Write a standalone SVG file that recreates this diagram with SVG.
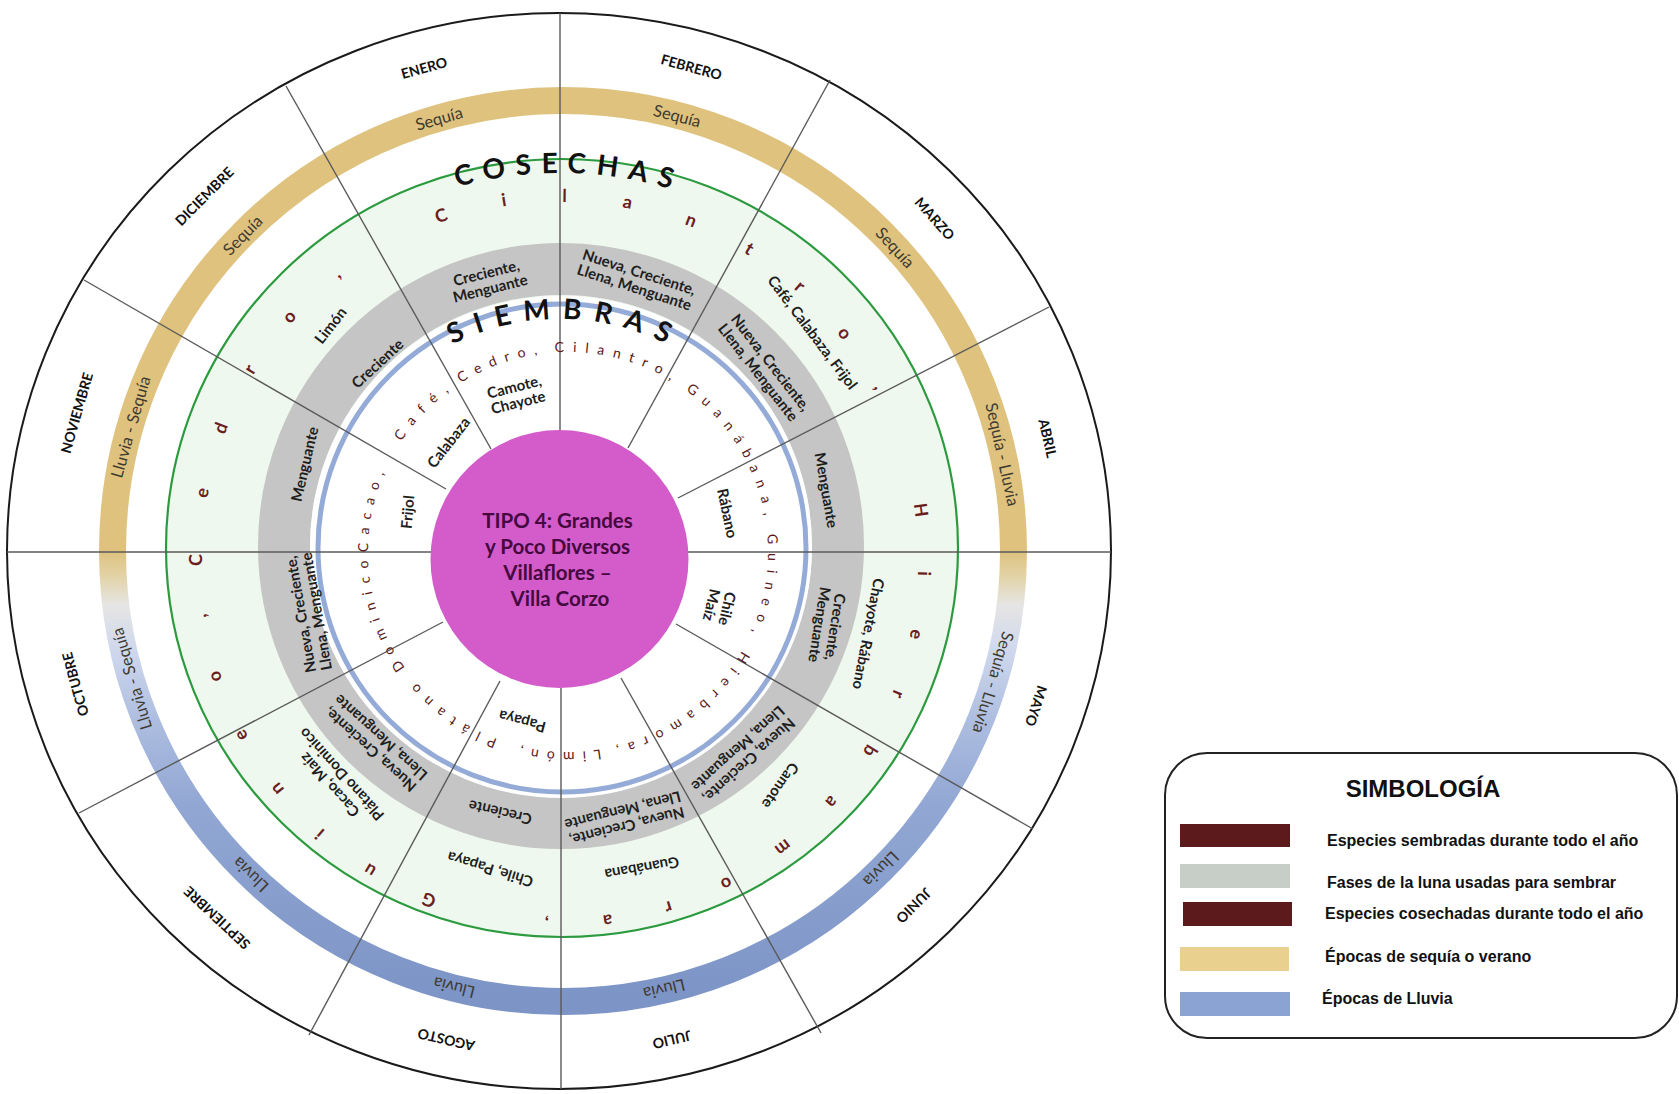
<svg xmlns="http://www.w3.org/2000/svg" width="1679" height="1094" viewBox="0 0 1679 1094">
<style>
text{font-family:Lato,"Liberation Sans",sans-serif}
.mon{font-weight:bold;font-size:14px;fill:#111}
.sea{font-size:16.5px;fill:#3f3a30}
.ph{font-weight:bold;font-size:15px;fill:#1e1e1e}
.sp{font-weight:bold;font-size:15px;fill:#1e1e1e}
.r1{font-weight:bold;font-size:18px;fill:#6b1e1e}
.r2{font-size:14px;fill:#5a1a1a}
.big{font-weight:bold;font-size:28px;fill:#111}
.ctr{font-weight:bold;font-size:20.5px;fill:#45093f}
.leg{font-family:"Liberation Sans",Arial,sans-serif;font-weight:bold;font-size:16px;fill:#111}
.ttl{font-family:"Liberation Sans",Arial,sans-serif;font-weight:bold;font-size:24px;fill:#111}
.ln{stroke:#5a5a5a;stroke-width:1.4}
</style>
<defs>
<linearGradient id="season" gradientUnits="userSpaceOnUse" x1="0" y1="101" x2="0" y2="1001">
<stop offset="0" stop-color="#dec27e"/>
<stop offset="0.5" stop-color="#dec27e"/>
<stop offset="0.53" stop-color="#e3d4aa"/>
<stop offset="0.56" stop-color="#e6e5e4"/>
<stop offset="0.61" stop-color="#cfd8ed"/>
<stop offset="0.69" stop-color="#adbde0"/>
<stop offset="0.78" stop-color="#92a7d3"/>
<stop offset="1" stop-color="#7c94c6"/>
</linearGradient>
<path id="pC" d="M560,202 A358,358 0 1,1 560,918 A358,358 0 1,1 560,202"/>
<path id="pS" d="M568,352 A200,200 0 1,1 568,752 A200,200 0 1,1 568,352"/>
<path id="pCos" d="M173,560 A387,387 0 0,1 947,560"/>
<path id="pSie" d="M321,558 A239,239 0 0,1 799,558"/>
</defs>
<rect width="1679" height="1094" fill="#fff"/>

<g id="rings">
<ellipse cx="559" cy="551" rx="552" ry="538" fill="#fff" stroke="#1a1a1a" stroke-width="2"/>
<circle cx="563" cy="551" r="450.5" fill="none" stroke="url(#season)" stroke-width="27"/>
<ellipse cx="562" cy="548" rx="396" ry="389" fill="#eff8ee" stroke="#2c9a3e" stroke-width="2.2"/>
<circle cx="561" cy="546" r="277" fill="none" stroke="#c4c5c4" stroke-width="52"/>
<circle cx="561" cy="547" r="251" fill="#fff"/>
<circle cx="562" cy="548" r="244" fill="none" stroke="#95abd7" stroke-width="5"/>
</g>

<g id="connectors">
<line class="ln" x1="560" y1="13" x2="560" y2="432"/>
<line class="ln" x1="286" y1="86" x2="491" y2="449"/>
<line class="ln" x1="84" y1="280" x2="446" y2="489"/>
<line class="ln" x1="7" y1="552" x2="431" y2="552"/>
<line class="ln" x1="79" y1="813" x2="443" y2="622"/>
<line class="ln" x1="309" y1="1035" x2="500" y2="681"/>
<line class="ln" x1="561" y1="688" x2="561" y2="1089"/>
<line class="ln" x1="621" y1="678" x2="821" y2="1033"/>
<line class="ln" x1="676" y1="624" x2="1033" y2="829"/>
<line class="ln" x1="688" y1="552" x2="1111" y2="552"/>
<line class="ln" x1="678" y1="498" x2="1049" y2="307"/>
<line class="ln" x1="628" y1="448" x2="830" y2="80"/>
</g>

<g id="center">
<circle cx="559.5" cy="559" r="129" fill="#d35cca"/>
<text class="ctr" text-anchor="middle">
<tspan x="560" y="528">TIPO 4: Grandes</tspan>
<tspan x="560" y="554">y Poco Diversos</tspan>
<tspan x="560" y="580">Villaflores –</tspan>
<tspan x="560" y="606">Villa Corzo</tspan>
</text>
</g>

<g id="months" class="mon" text-anchor="middle" dominant-baseline="central">
<text x="559" y="49" transform="rotate(-15.6 559 551)">ENERO</text>
<text x="559" y="49" transform="rotate(15.3 559 551)">FEBRERO</text>
<text x="559" y="49" transform="rotate(48.5 559 551)">MARZO</text>
<text x="559" y="49" transform="rotate(77 559 551)">ABRIL</text>
<text x="559" y="49" transform="rotate(108 559 551)">MAYO</text>
<text x="559" y="49" transform="rotate(135 559 551)">JUNIO</text>
<text x="559" y="49" transform="rotate(167 559 551)">JULIO</text>
<text x="559" y="49" transform="rotate(193 559 551)">AGOSTO</text>
<text x="559" y="49" transform="rotate(223 559 551)">SEPTIEMBRE</text>
<text x="559" y="49" transform="rotate(254.6 559 551)">OCTUBRE</text>
<text x="559" y="49" transform="rotate(-74 559 551)">NOVIEMBRE</text>
<text x="559" y="49" transform="rotate(-45 559 551)">DICIEMBRE</text>
</g>

<g id="seasons" class="sea" text-anchor="middle" dominant-baseline="central">
<text x="563" y="101" transform="rotate(-16 563 551)">Sequía</text>
<text x="563" y="101" transform="rotate(14.7 563 551)">Sequía</text>
<text x="563" y="101" transform="rotate(47.6 563 551)">Sequía</text>
<text x="563" y="101" transform="rotate(77.6 563 551)">Sequía - Lluvia</text>
<text x="563" y="101" transform="rotate(107 563 551)">Sequía - Lluvia</text>
<text x="563" y="101" transform="rotate(135 563 551)">Lluvia</text>
<text x="563" y="101" transform="rotate(167 563 551)">Lluvia</text>
<text x="563" y="101" transform="rotate(194 563 551)">Lluvia</text>
<text x="563" y="101" transform="rotate(224 563 551)">Lluvia</text>
<text x="563" y="101" transform="rotate(253.5 563 551)">Lluvia - Sequía</text>
<text x="563" y="101" transform="rotate(-74 563 551)">Lluvia - Sequía</text>
<text x="563" y="101" transform="rotate(-45.4 563 551)">Sequía</text>
</g>

<g id="cosechas-ring">
<text class="big" text-anchor="middle" letter-spacing="10" transform="rotate(1.3 560 560)"><textPath href="#pCos" startOffset="50%">COSECHAS</textPath></text>
<g class="r1" transform="rotate(-25 560 560)">
<text><textPath href="#pC" startOffset="31.2" textLength="511" lengthAdjust="spacing">Cilantro,</textPath></text>
<text><textPath href="#pC" startOffset="662.3" textLength="633.5" lengthAdjust="spacing">Hierbamora,</textPath></text>
<text><textPath href="#pC" startOffset="1405.8" textLength="383.6" lengthAdjust="spacing">Guineo,</textPath></text>
<text><textPath href="#pC" startOffset="1836.9" textLength="333.6" lengthAdjust="spacing">Cedro,</textPath></text>
</g>
</g>

<g id="siembras-ring">
<text class="big" text-anchor="middle" letter-spacing="12" transform="rotate(1.2 560 558)"><textPath href="#pSie" startOffset="50%">SIEMBRAS</textPath></text>
<g class="r2" transform="rotate(-60 568 552)">
<text><textPath href="#pS" startOffset="12.2" textLength="69.8" lengthAdjust="spacing">Café,</textPath></text>
<text><textPath href="#pS" startOffset="96.4" textLength="82.4" lengthAdjust="spacing">Cedro,</textPath></text>
<text><textPath href="#pS" startOffset="196.2" textLength="121.1" lengthAdjust="spacing">Cilantro,</textPath></text>
<text><textPath href="#pS" startOffset="335.1" textLength="151.9" lengthAdjust="spacing">Guanábana,</textPath></text>
<text><textPath href="#pS" startOffset="505.5" textLength="99.8" lengthAdjust="spacing">Guineo,</textPath></text>
<text><textPath href="#pS" startOffset="626.6" textLength="162.7" lengthAdjust="spacing">Hierbamora,</textPath></text>
<text><textPath href="#pS" startOffset="804.7" textLength="80.3" lengthAdjust="spacing">Limón,</textPath></text>
<text><textPath href="#pS" startOffset="909.4" textLength="99.5" lengthAdjust="spacing">Plátano</textPath></text>
<text><textPath href="#pS" startOffset="1027.7" textLength="204.9" lengthAdjust="spacing">DominicoCacao,</textPath></text>
</g>
</g>

<g id="fases" class="ph" text-anchor="middle" dominant-baseline="central">
<g transform="translate(488,280) rotate(-14)"><text y="-8">Creciente,</text><text y="8">Menguante</text></g>
<g transform="translate(637,279) rotate(18)"><text y="-8">Nueva, Creciente,</text><text y="8">Llena, Menguante</text></g>
<g transform="translate(765,367) rotate(52)"><text y="-8">Nueva, Creciente,</text><text y="8">Llena, Menguante</text></g>
<g transform="translate(827,490) rotate(80)"><text y="0">Menguante</text></g>
<g transform="translate(828,626) rotate(99)"><text y="-8">Creciente,</text><text y="8">Menguante</text></g>
<g transform="translate(744,755) rotate(138)"><text y="-8">Nueva, Creciente,</text><text y="8">Llena, Menguante</text></g>
<g transform="translate(625,819) rotate(166)"><text y="-8">Nueva, Creciente,</text><text y="8">Llena, Menguante</text></g>
<g transform="translate(500,813) rotate(193)"><text y="0">Creciente</text></g>
<g transform="translate(375,744) rotate(222)"><text y="-8">Nueva, Creciente,</text><text y="8">Llena, Menguante</text></g>
<g transform="translate(308,613) rotate(-100)"><text y="-8">Nueva, Creciente,</text><text y="8">Llena, Menguante</text></g>
<g transform="translate(304,464) rotate(-77)"><text y="0">Menguante</text></g>
<g transform="translate(377,363) rotate(-43)"><text y="0">Creciente</text></g>
</g>

<g id="cosechas-especies" class="sp" text-anchor="middle" dominant-baseline="central">
<g transform="translate(813,332) rotate(53)"><text>Café, Calabaza, Frijol</text></g>
<g transform="translate(869,634) rotate(101)"><text>Chayote, Rábano</text></g>
<g transform="translate(781,786) rotate(125)"><text>Camote</text></g>
<g transform="translate(642,869) rotate(170)"><text>Guanábana</text></g>
<g transform="translate(490,870) rotate(197)"><text>Chile, Papaya</text></g>
<g transform="translate(335,780) rotate(228)"><text y="-8">Cacao, Maíz</text><text y="8">Plátano Dominico</text></g>
<g transform="translate(330,325) rotate(-52)"><text>Limón</text></g>
</g>

<g id="siembras-especies" class="sp" text-anchor="middle" dominant-baseline="central">
<g transform="translate(516,394) rotate(-14)"><text y="-8">Camote,</text><text y="8">Chayote</text></g>
<g transform="translate(728,513) rotate(78)"><text>Rábano</text></g>
<g transform="translate(720,607) rotate(103)"><text y="-8">Chile</text><text y="8">Maíz</text></g>
<g transform="translate(522,722) rotate(195)"><text>Papaya</text></g>
<g transform="translate(407,512) rotate(-85)"><text>Frijol</text></g>
<g transform="translate(448,442) rotate(-52)"><text>Calabaza</text></g>
</g>

<g id="legend">
<rect x="1165" y="753" width="512" height="285" rx="42" fill="#fff" stroke="#222" stroke-width="2"/>
<text class="ttl" x="1423" y="797" text-anchor="middle">SIMBOLOGÍA</text>
<rect x="1180" y="824" width="110" height="23" fill="#5c1a1c"/>
<rect x="1180" y="864" width="110" height="24" fill="#c7cdc7"/>
<rect x="1183" y="902" width="109" height="24" fill="#5c1a1c"/>
<rect x="1180" y="947" width="109" height="24" fill="#ead08f"/>
<rect x="1180" y="992" width="110" height="24" fill="#8aa3d3"/>
<text class="leg" x="1327" y="846">Especies sembradas durante todo el año</text>
<text class="leg" x="1327" y="888">Fases de la luna usadas para sembrar</text>
<text class="leg" x="1325" y="919">Especies cosechadas durante todo el año</text>
<text class="leg" x="1325" y="962">Épocas de sequía o verano</text>
<text class="leg" x="1322" y="1004">Épocas de Lluvia</text>
</g>
</svg>
